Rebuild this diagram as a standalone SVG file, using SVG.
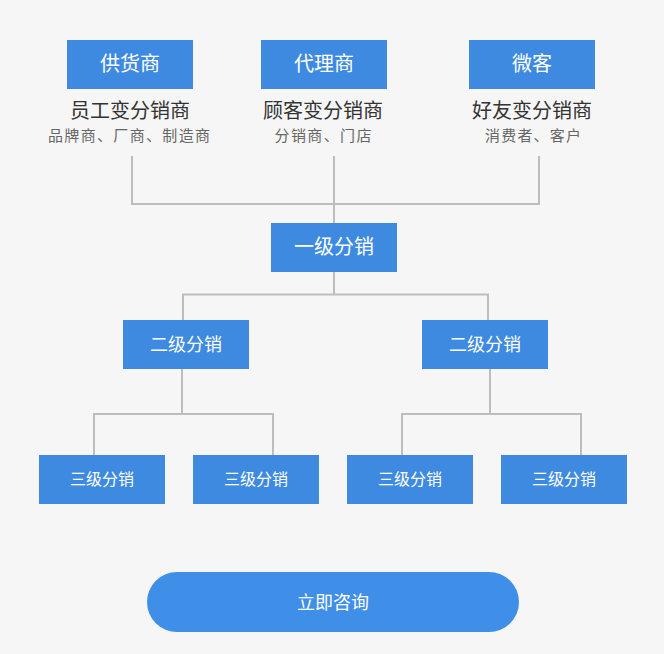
<svg xmlns="http://www.w3.org/2000/svg" width="664" height="654" viewBox="0 0 664 654">
<style>
.box{fill:#3e8ae1}
.bt{fill:#fff;font-family:"Noto Sans CJK SC","Noto Sans",sans-serif;text-anchor:middle}
.t1{fill:#333;font-family:"Noto Sans CJK SC",sans-serif;font-size:20px;text-anchor:middle}
.t2{fill:#666;font-family:"Noto Sans CJK SC",sans-serif;font-size:15px;text-anchor:middle}
.ln{fill:none;stroke:#bdbdbd;stroke-width:2}
</style>
<rect width="664" height="654" fill="#f6f6f6"/>
<g id="connectors" class="ln">
<path d="M132 156V204H539V156M334 156V223"/>
<path d="M334 272V294.5M183 320V294.5H488V320"/>
<path d="M182 369V414M94 455V414H273V455"/>
<path d="M490 369V414M402 455V414H581V455"/>
</g>
<g id="n-gys"><rect class="box" x="67" y="40" width="126" height="49"/><text class="bt" x="130" y="71" font-size="20">供货商</text>
<text class="t1" x="130" y="118">员工变分销商</text><text class="t2" x="129" y="141" textLength="162">品牌商、厂商、制造商</text></g>
<g id="n-dls"><rect class="box" x="261" y="40" width="126" height="49"/><text class="bt" x="324" y="71" font-size="20">代理商</text>
<text class="t1" x="323" y="118">顾客变分销商</text><text class="t2" x="323" y="141" textLength="97">分销商、门店</text></g>
<g id="n-wk"><rect class="box" x="469" y="40" width="126" height="49"/><text class="bt" x="532" y="71" font-size="20">微客</text>
<text class="t1" x="532" y="118">好友变分销商</text><text class="t2" x="533" y="141" textLength="96">消费者、客户</text></g>
<g id="n-l1"><rect class="box" x="271" y="223" width="126" height="49"/><text class="bt" x="334" y="254" font-size="20">一级分销</text></g>
<g id="n-l2a"><rect class="box" x="123" y="320" width="126" height="49"/><text class="bt" x="186" y="351" font-size="18">二级分销</text></g>
<g id="n-l2b"><rect class="box" x="422" y="320" width="126" height="49"/><text class="bt" x="485" y="351" font-size="18">二级分销</text></g>
<g id="n-l3a"><rect class="box" x="39" y="455" width="126" height="49"/><text class="bt" x="102" y="485" font-size="16">三级分销</text></g>
<g id="n-l3b"><rect class="box" x="193" y="455" width="126" height="49"/><text class="bt" x="256" y="485" font-size="16">三级分销</text></g>
<g id="n-l3c"><rect class="box" x="347" y="455" width="126" height="49"/><text class="bt" x="410" y="485" font-size="16">三级分销</text></g>
<g id="n-l3d"><rect class="box" x="501" y="455" width="126" height="49"/><text class="bt" x="564" y="485" font-size="16">三级分销</text></g>
<g id="n-btn"><rect x="147" y="572" width="372" height="60" rx="30" fill="#3f8ee8"/><text class="bt" x="333" y="609" font-size="18">立即咨询</text></g>
</svg>
